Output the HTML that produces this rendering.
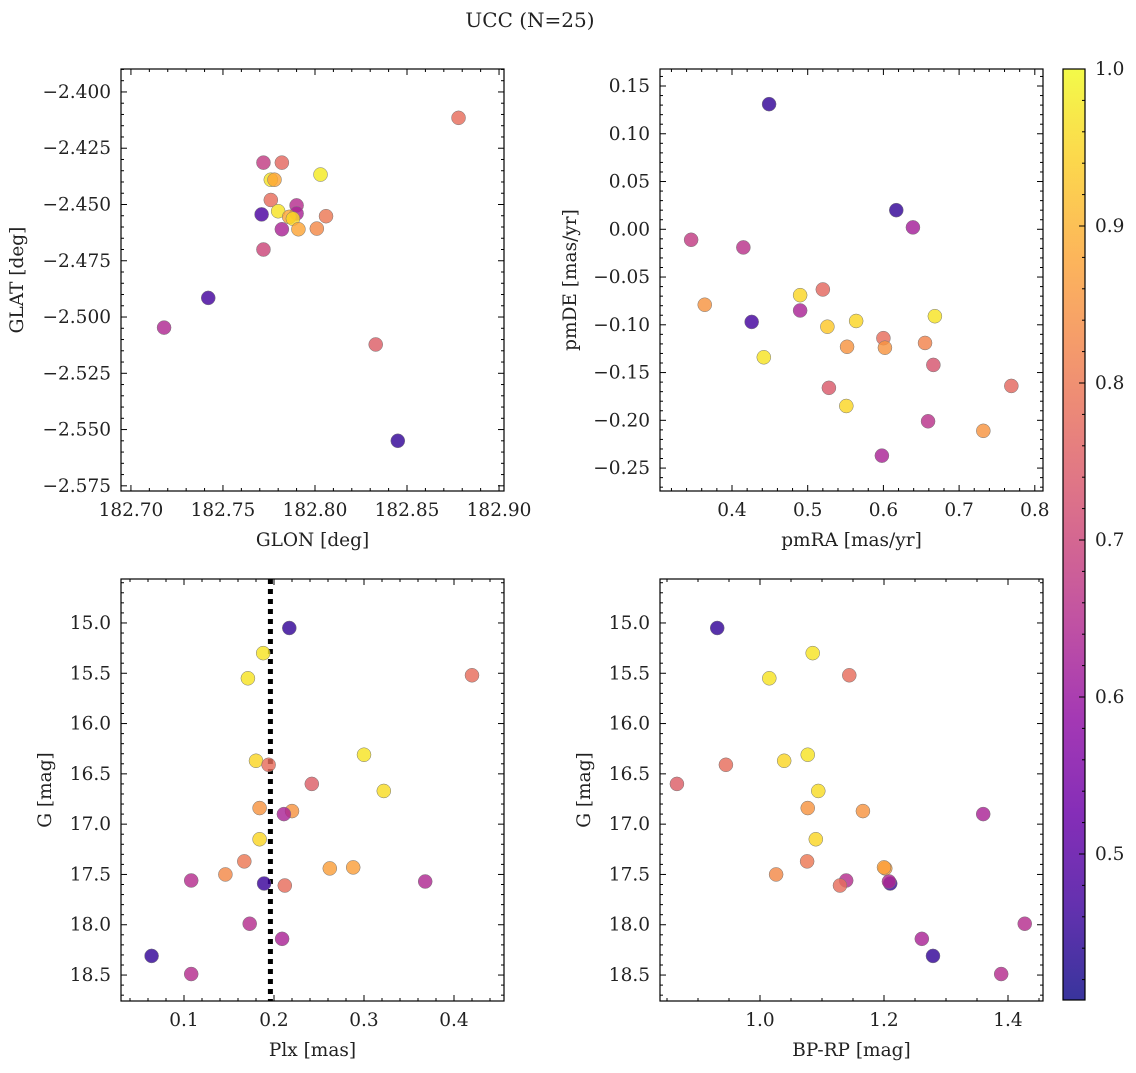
<!DOCTYPE html>
<html><head><meta charset="utf-8">
<style>
html,body{margin:0;padding:0;background:#fff;}
svg text{font-family:"DejaVu Serif","Liberation Serif",serif;fill:#222;}
</style></head>
<body>
<svg id="fig" width="1136" height="1068" xmlns="http://www.w3.org/2000/svg">
<text x="530" y="27" font-size="20" text-anchor="middle">UCC (N=25)</text>
<defs><linearGradient id="plasma" x1="0" y1="1" x2="0" y2="0"></linearGradient></defs>
</svg>
<script>
// Top-left: GLON vs GLAT
const glonX=[182.878,182.772,182.782,182.803,182.776,182.778,182.776,182.790,182.771,182.780,182.790,182.786,182.788,182.806,182.791,182.782,182.801,182.772,182.742,182.718,182.833,182.845];
const glatY=[-2.4115,-2.4314,-2.4314,-2.4367,-2.439,-2.439,-2.448,-2.4504,-2.4544,-2.453,-2.454,-2.4555,-2.4563,-2.4552,-2.461,-2.461,-2.4607,-2.470,-2.4915,-2.5047,-2.5122,-2.555];
const glonC=[0.78,0.68,0.77,0.98,0.97,0.88,0.78,0.65,0.48,0.97,0.63,0.88,0.95,0.80,0.88,0.63,0.83,0.70,0.47,0.64,0.75,0.45];
// Top-right: pmRA vs pmDE
const pmraX=[0.449,0.617,0.639,0.346,0.415,0.364,0.520,0.490,0.426,0.490,0.526,0.564,0.668,0.442,0.600,0.602,0.552,0.655,0.666,0.528,0.769,0.551,0.659,0.732,0.598];
const pmdeY=[0.131,0.020,0.002,-0.011,-0.019,-0.079,-0.063,-0.069,-0.097,-0.085,-0.102,-0.096,-0.091,-0.134,-0.114,-0.124,-0.123,-0.119,-0.142,-0.166,-0.164,-0.185,-0.201,-0.211,-0.237];
const pmC=[0.45,0.45,0.62,0.68,0.66,0.85,0.77,0.95,0.47,0.63,0.93,0.95,0.97,0.97,0.78,0.85,0.85,0.82,0.73,0.74,0.77,0.95,0.66,0.85,0.63];
// Bottom: Plx, BP-RP vs G (shared stars)
const plxX=[0.217,0.188,0.171,0.420,0.180,0.194,0.300,0.322,0.242,0.184,0.220,0.211,0.184,0.167,0.146,0.108,0.189,0.212,0.262,0.288,0.368,0.173,0.209,0.064,0.108];
const bprpX=[0.931,1.085,1.015,1.144,1.039,0.945,1.077,1.094,0.866,1.077,1.166,1.360,1.090,1.076,1.026,1.139,1.210,1.129,1.202,1.200,1.208,1.427,1.261,1.279,1.389];
const gMag=[15.05,15.30,15.55,15.52,16.37,16.41,16.31,16.67,16.60,16.84,16.87,16.90,17.15,17.37,17.50,17.56,17.59,17.61,17.44,17.43,17.57,17.99,18.14,18.31,18.49];
const gC=[0.45,0.97,0.97,0.78,0.95,0.78,0.97,0.96,0.75,0.85,0.85,0.63,0.95,0.80,0.83,0.65,0.46,0.78,0.87,0.87,0.64,0.65,0.63,0.45,0.65];
const plxLine=0.196;
const cbTicks=[0.5,0.6,0.7,0.8,0.9,1.0];
const cMin=0.407,cMax=1.0;

const NS="http://www.w3.org/2000/svg";
const svg=document.getElementById('fig');
const FS=18.5;
function mk(tag,attrs,parent){const e=document.createElementNS(NS,tag);for(const k in attrs)e.setAttribute(k,attrs[k]);(parent||svg).appendChild(e);return e;}
const stops=[[0,13,8,135],[0.1,65,4,157],[0.2,106,0,168],[0.3,143,13,164],[0.4,177,42,144],[0.5,204,71,120],[0.6,225,100,98],[0.7,242,132,75],[0.8,252,166,54],[0.9,252,206,37],[1,240,249,33]];
function plasma(t){t=Math.max(0,Math.min(1,t));for(let i=1;i<stops.length;i++){if(t<=stops[i][0]){const a=stops[i-1],b=stops[i];const f=(t-a[0])/(b[0]-a[0]);return `rgb(${Math.round(a[1]+f*(b[1]-a[1]))},${Math.round(a[2]+f*(b[2]-a[2]))},${Math.round(a[3]+f*(b[3]-a[3]))})`;}}return 'rgb(240,249,33)';}
function cmap(v){return plasma((v-cMin)/(cMax-cMin));}
const grad=document.getElementById('plasma');
for(let i=0;i<=20;i++){mk('stop',{offset:(i/20),'stop-color':plasma(i/20),'stop-opacity':0.82},grad);}

function panel(o){
  const g=mk('g',{});
  
  
  const sx=v=>o.L+(v-o.x0)/(o.x1-o.x0)*(o.R-o.L);
  const sy=v=>o.yinv? o.T+(v-o.y0)/(o.y1-o.y0)*(o.B-o.T) : o.B-(v-o.y0)/(o.y1-o.y0)*(o.B-o.T);
  const eps=1e-9;
  for(let v=Math.ceil((o.x0-eps)/o.xmin)*o.xmin; v<=o.x1+eps; v+=o.xmin){
    const x=sx(v);const maj=Math.abs(v/o.xmaj-Math.round(v/o.xmaj))<1e-4;const len=maj?6:3;
    mk('line',{x1:x,x2:x,y1:o.B,y2:o.B-len,stroke:'#000','stroke-width':1},g);
    mk('line',{x1:x,x2:x,y1:o.T,y2:o.T+len,stroke:'#000','stroke-width':1},g);
    if(maj){const t=mk('text',{x:x,y:o.B+25,'font-size':FS,'text-anchor':'middle'},g);t.textContent=v.toFixed(o.xdec);}
  }
  const ylo=Math.min(o.y0,o.y1),yhi=Math.max(o.y0,o.y1);
  for(let v=Math.ceil((ylo-eps)/o.ymin)*o.ymin; v<=yhi+eps; v+=o.ymin){
    const y=sy(v);const maj=Math.abs(v/o.ymaj-Math.round(v/o.ymaj))<1e-4;const len=maj?6:3;
    mk('line',{x1:o.L,x2:o.L+len,y1:y,y2:y,stroke:'#000','stroke-width':1},g);
    mk('line',{x1:o.R,x2:o.R-len,y1:y,y2:y,stroke:'#000','stroke-width':1},g);
    if(maj){let s=v.toFixed(o.ydec);if(s.startsWith('-'))s='\u2212'+s.slice(1);if(s==='\u22120.00')s='0.00';const t=mk('text',{x:o.L-10,y:y+6,'font-size':FS,'text-anchor':'end'},g);t.textContent=s;}
  }
  if(o.vline!==undefined){const l=mk('line',{x1:sx(o.vline),x2:sx(o.vline),y1:o.T,y2:o.B,stroke:'#000','stroke-width':5,'stroke-dasharray':'5,5'},g);}
  for(let i=0;i<o.xs.length;i++){
    const c=mk('circle',{cx:sx(o.xs[i]),cy:sy(o.ys[i]),r:7,fill:cmap(o.cs[i]),'fill-opacity':0.82,stroke:'#777','stroke-width':0.5},g);
    
    
  }
  mk('rect',{x:o.L,y:o.T,width:o.R-o.L,height:o.B-o.T,fill:'none',stroke:'#000','stroke-width':1.2},g);
  const xl=mk('text',{x:(o.L+o.R)/2,y:o.B+55,'font-size':FS,'text-anchor':'middle'},g);xl.textContent=o.xlabel;
  
  const yl=mk('text',{x:0,y:0,'font-size':FS,'text-anchor':'middle',transform:`translate(${o.ylx},${(o.T+o.B)/2}) rotate(-90)`},g);yl.textContent=o.ylabel;
  
}
panel({name:'glon-glat-panel',L:121,R:504,T:69,B:491,x0:182.6946,x1:182.9027,y0:-2.5773,y1:-2.3898,xmaj:0.05,xmin:0.01,ymaj:0.025,ymin:0.005,xdec:2,ydec:3,xs:glonX,ys:glatY,cs:glonC,xlabel:'GLON [deg]',ylabel:'GLAT [deg]',ylx:23});
panel({name:'pm-panel',L:660,R:1043,T:69,B:491,x0:0.4-72/757,x1:0.4+311/757,y0:-0.274,y1:0.1678,xmaj:0.1,xmin:0.02,ymaj:0.05,ymin:0.01,xdec:1,ydec:2,xs:pmraX,ys:pmdeY,cs:pmC,xlabel:'pmRA [mas/yr]',ylabel:'pmDE [mas/yr]',ylx:576});
panel({name:'plx-g-panel',L:121,R:504,T:579,B:1001,x0:0.1-63/900,x1:0.4+50/900,y0:14.563,y1:18.758,yinv:true,xmaj:0.1,xmin:0.02,ymaj:0.5,ymin:0.1,xdec:1,ydec:1,xs:plxX,ys:gMag,cs:gC,xlabel:'Plx [mas]',ylabel:'G [mag]',ylx:51,vline:plxLine});
panel({name:'cmd-panel',L:660,R:1043,T:579,B:1001,x0:1.0-100/620,x1:1.4+35/620,y0:14.563,y1:18.758,yinv:true,xmaj:0.2,xmin:0.05,ymaj:0.5,ymin:0.1,xdec:1,ydec:1,xs:bprpX,ys:gMag,cs:gC,xlabel:'BP-RP [mag]',ylabel:'G [mag]',ylx:590});
const cb=mk('g',{});


const cT=69,cB=1000,cL=1063,cR=1085;
const cy=v=>cB-(v-cMin)/(cMax-cMin)*(cB-cT);
mk('rect',{x:cL,y:cT,width:cR-cL,height:cB-cT,fill:'url(#plasma)'},cb);
for(let v=0.42;v<=1.0001;v+=0.02){const y=cy(v);const maj=Math.abs(v*10-Math.round(v*10))<1e-4;mk('line',{x1:cR,x2:cR-(maj?6:3),y1:y,y2:y,stroke:'#000','stroke-width':1},cb);}
for(const v of cbTicks){const t=mk('text',{x:cR+10,y:cy(v)+6,'font-size':FS},cb);t.textContent=v.toFixed(1);}
mk('rect',{x:cL,y:cT,width:cR-cL,height:cB-cT,fill:'none',stroke:'#000','stroke-width':1.2},cb);
</script>
</body></html>
